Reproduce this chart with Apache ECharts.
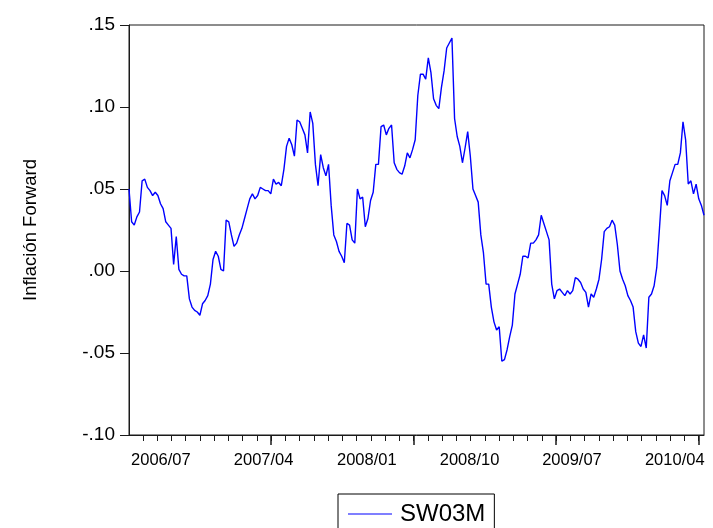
<!DOCTYPE html>
<html>
<head>
<meta charset="utf-8">
<script src="https://cdn.jsdelivr.net/npm/echarts@6/dist/echarts.min.js"></script>
<style>html,body{margin:0;padding:0;background:#fff}#c{width:713px;height:528px}</style>
</head>
<body>
<div id="c"></div>
<script>
const seriesName = 'SW03M';
const yAxisName = 'Inflación Forward';
const xLabelDates = ['2006-07-01','2007-04-01','2008-01-01','2008-10-01','2009-07-01','2010-04-01'];
const yTicks = [-0.10, -0.05, 0.00, 0.05, 0.10, 0.15];
const dates = [
'2006-04-07','2006-04-14','2006-04-21','2006-04-28','2006-05-05','2006-05-12','2006-05-19','2006-05-26',
'2006-06-02','2006-06-09','2006-06-16','2006-06-23','2006-06-30','2006-07-07','2006-07-14','2006-07-21','2006-07-28',
'2006-08-04','2006-08-11','2006-08-18','2006-08-25','2006-09-01','2006-09-08','2006-09-15','2006-09-22','2006-09-29',
'2006-10-06','2006-10-13','2006-10-20','2006-10-27','2006-11-03','2006-11-10','2006-11-17','2006-11-24',
'2006-12-01','2006-12-08','2006-12-15','2006-12-22','2006-12-29',
'2007-01-05','2007-01-12','2007-01-19','2007-01-26','2007-02-02','2007-02-09','2007-02-16','2007-02-23',
'2007-03-02','2007-03-09','2007-03-16','2007-03-23','2007-03-30','2007-04-06','2007-04-13','2007-04-20','2007-04-27',
'2007-05-04','2007-05-11','2007-05-18','2007-05-25','2007-06-01','2007-06-08','2007-06-15','2007-06-22','2007-06-29',
'2007-07-06','2007-07-13','2007-07-20','2007-07-27','2007-08-03','2007-08-10','2007-08-17','2007-08-24','2007-08-31',
'2007-09-07','2007-09-14','2007-09-21','2007-09-28','2007-10-05','2007-10-12','2007-10-19','2007-10-26',
'2007-11-02','2007-11-09','2007-11-16','2007-11-23','2007-11-30','2007-12-07','2007-12-14','2007-12-21','2007-12-28',
'2008-01-04','2008-01-11','2008-01-18','2008-01-25','2008-02-01','2008-02-08','2008-02-15','2008-02-22','2008-02-29',
'2008-03-07','2008-03-14','2008-03-21','2008-03-28','2008-04-04','2008-04-11','2008-04-18','2008-04-25',
'2008-05-02','2008-05-09','2008-05-16','2008-05-23','2008-05-30','2008-06-06','2008-06-13','2008-06-20','2008-06-27',
'2008-07-04','2008-07-11','2008-07-18','2008-07-25','2008-08-01','2008-08-08','2008-08-15','2008-08-22','2008-08-29',
'2008-09-05','2008-09-12','2008-09-19','2008-09-26','2008-10-03','2008-10-10','2008-10-17','2008-10-24','2008-10-31',
'2008-11-07','2008-11-14','2008-11-21','2008-11-28','2008-12-05','2008-12-12','2008-12-19','2008-12-26',
'2009-01-02','2009-01-09','2009-01-16','2009-01-23','2009-01-30','2009-02-06','2009-02-13','2009-02-20','2009-02-27',
'2009-03-06','2009-03-13','2009-03-20','2009-03-27','2009-04-03','2009-04-10','2009-04-17','2009-04-24',
'2009-05-01','2009-05-08','2009-05-15','2009-05-22','2009-05-29','2009-06-05','2009-06-12','2009-06-19','2009-06-26',
'2009-07-03','2009-07-10','2009-07-17','2009-07-24','2009-07-31','2009-08-07','2009-08-14','2009-08-21','2009-08-28',
'2009-09-04','2009-09-11','2009-09-18','2009-09-25','2009-10-02','2009-10-09','2009-10-16','2009-10-23','2009-10-30',
'2009-11-06','2009-11-13','2009-11-20','2009-11-27','2009-12-04','2009-12-11','2009-12-18','2009-12-25',
'2010-01-01','2010-01-08','2010-01-15','2010-01-22','2010-01-29','2010-02-05','2010-02-12','2010-02-19','2010-02-26',
'2010-03-05','2010-03-12','2010-03-19','2010-03-26','2010-04-02','2010-04-09','2010-04-16','2010-04-23','2010-04-30',
'2010-05-07','2010-05-14','2010-05-21','2010-05-28','2010-06-04','2010-06-11','2010-06-18'
];
const values = [
0.050,0.030,0.028,0.033,0.036,0.055,0.056,0.051,0.049,0.046,
0.048,0.046,0.041,0.038,0.030,0.028,0.026,0.004,0.021,0.001,
-0.002,-0.003,-0.003,-0.017,-0.022,-0.024,-0.025,-0.027,-0.020,-0.018,
-0.015,-0.008,0.007,0.012,0.009,0.001,0.000,0.031,0.030,0.022,
0.015,0.017,0.022,0.026,0.032,0.038,0.044,0.047,0.044,0.046,
0.051,0.050,0.049,0.049,0.047,0.056,0.053,0.054,0.052,0.062,
0.076,0.081,0.077,0.070,0.092,0.091,0.087,0.083,0.072,0.097,
0.090,0.065,0.052,0.071,0.063,0.058,0.065,0.040,0.022,0.018,
0.012,0.009,0.005,0.029,0.028,0.019,0.017,0.050,0.044,0.045,
0.027,0.032,0.043,0.048,0.065,0.065,0.088,0.089,0.083,0.087,
0.089,0.066,0.062,0.060,0.059,0.064,0.072,0.069,0.074,0.080,
0.107,0.120,0.120,0.117,0.130,0.121,0.105,0.101,0.099,0.112,
0.122,0.136,0.139,0.142,0.093,0.082,0.076,0.066,0.075,0.085,
0.070,0.050,0.046,0.042,0.022,0.011,-0.008,-0.008,-0.022,-0.031,
-0.036,-0.034,-0.055,-0.054,-0.048,-0.040,-0.033,-0.014,-0.008,-0.002,
0.009,0.009,0.008,0.017,0.017,0.019,0.022,0.034,0.029,0.024,
0.019,-0.008,-0.017,-0.012,-0.011,-0.013,-0.015,-0.012,-0.014,-0.012,
-0.004,-0.005,-0.007,-0.011,-0.013,-0.022,-0.014,-0.016,-0.011,-0.005,
0.007,0.024,0.026,0.027,0.031,0.028,0.016,0.000,-0.005,-0.009,
-0.015,-0.018,-0.022,-0.037,-0.044,-0.046,-0.039,-0.047,-0.016,-0.014,
-0.009,0.002,0.025,0.049,0.046,0.040,0.055,0.060,0.065,0.065,
0.072,0.091,0.080,0.053,0.055,0.047,0.053,0.044,0.040,0.034
];

function ts(s){const p=s.split('-').map(Number);return new Date(p[0],p[1]-1,p[2]).getTime();}
const DAY = 86400000;
const xMin = ts(dates[0]);
const xMax = ts(dates[dates.length-1]);
// EViews-style tick marks: minor every 38 days, longer ones every 10th
const minorTicks = [], majorTicks = [];
for (let j = 0; j < 40; j++) {
  const v = xMin + (37 + 38 * j) * DAY;
  minorTicks.push(v);
  if (j % 10 === 9) majorTicks.push(v);
}
const FONT = 'Liberation Sans, Arial, Helvetica, sans-serif';

const chart = echarts.init(document.getElementById('c'), null, {renderer: 'canvas'});
chart.setOption({
  animation: false,
  backgroundColor: '#fff',
  grid: {left: 129, right: 9, top: 25, bottom: 93, show: true, borderColor: '#1a1a1a', borderWidth: 1, backgroundColor: 'transparent'},
  legend: {
    left: 338, top: 494,
    data: [{name: seriesName, icon: 'rect'}],
    itemWidth: 44, itemHeight: 1.2, itemGap: 8,
    padding: [8, 9, 24, 10],
    borderColor: '#000', borderWidth: 1,
    itemStyle: {color: '#0000ff'},
    textStyle: {fontFamily: FONT, fontSize: 24, color: '#000', padding: [0, 0, 0, 3]}
  },
  xAxis: [{
    type: 'value', min: xMin, max: xMax, position: 'bottom', scale: true,
    axisLine: {show: true, onZero: false, lineStyle: {color: '#1a1a1a', width: 1}},
    axisTick: {show: true, length: 6, customValues: minorTicks, lineStyle: {color: '#1a1a1a', width: 1}},
    axisLabel: {
      show: true, customValues: xLabelDates.map(ts), margin: 17,
      fontFamily: FONT, fontSize: 16.5, color: '#000',
      formatter: function (v) { const d = new Date(v); const m = d.getMonth() + 1; return d.getFullYear() + '/' + (m < 10 ? '0' + m : m); }
    },
    splitLine: {show: false}
  }, {
    type: 'value', min: xMin, max: xMax, position: 'bottom', scale: true,
    axisLine: {show: false, onZero: false},
    axisTick: {show: true, length: 10, customValues: majorTicks, lineStyle: {color: '#1a1a1a', width: 1.5}},
    axisLabel: {show: false},
    splitLine: {show: false}
  }],
  yAxis: {
    type: 'value', min: yTicks[0], max: yTicks[yTicks.length-1], interval: 0.05,
    name: yAxisName, nameLocation: 'middle', nameGap: 89, nameRotate: 90,
    nameTextStyle: {fontFamily: FONT, fontSize: 18.5, color: '#000'},
    axisLine: {show: true, onZero: false, lineStyle: {color: '#1a1a1a', width: 1}},
    axisTick: {show: true, inside: false, length: 9, lineStyle: {color: '#1a1a1a'}},
    axisLabel: {
      margin: 14, fontFamily: FONT, fontSize: 19, color: '#000',
      formatter: function (v) { const s = Math.abs(v).toFixed(2).replace(/^0/, ''); return (v < -1e-9 ? '-' : '') + s; }
    },
    splitLine: {show: false}
  },
  series: [{
    name: seriesName, type: 'line', xAxisIndex: 0,
    data: dates.map((d, i) => [ts(d), values[i]]),
    symbol: 'none', showSymbol: false,
    lineStyle: {color: '#0000ff', width: 1.4},
    itemStyle: {color: '#0000ff'}
  }]
});
</script>
</body>
</html>
